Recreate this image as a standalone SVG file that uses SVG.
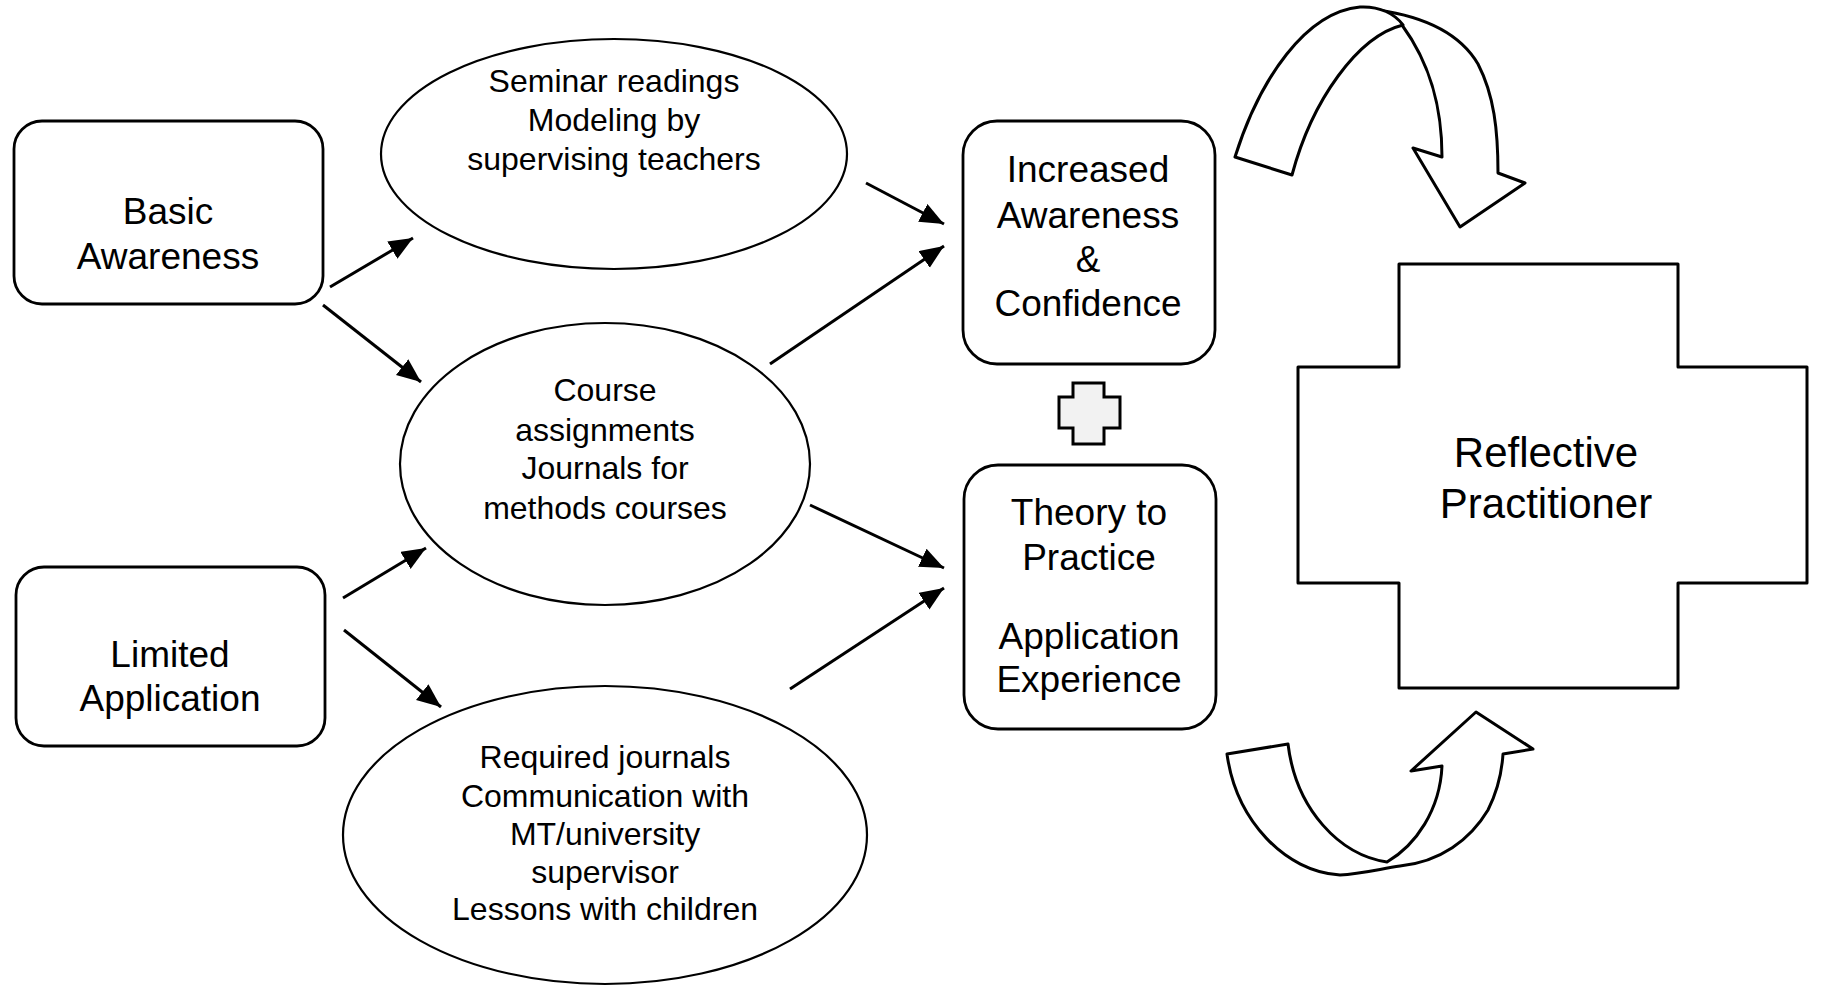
<svg xmlns="http://www.w3.org/2000/svg" width="1821" height="987" viewBox="0 0 1821 987">
  <style>
    .box { fill: #fff; stroke: #000; stroke-width: 2.8; }
    .oval { fill: #fff; stroke: #000; stroke-width: 2.2; }
    .shape { fill: #fff; stroke: #000; stroke-width: 3; stroke-linejoin: round; }
    .lbl { font-family: "Liberation Sans", Arial, sans-serif; font-size: 37px; fill: #000; text-anchor: middle; }
    .sm { font-size: 32px; }
    .big { font-size: 42px; }
    .edge { stroke: #000; stroke-width: 3; fill: none; marker-end: url(#head); }
  </style>
  <defs>
    <marker id="head" markerUnits="userSpaceOnUse" markerWidth="26" markerHeight="22" refX="24" refY="10" orient="auto">
      <path d="M0,0 L24,10 L0,20 Z" fill="#000"/>
    </marker>
  </defs>
  <rect width="1821" height="987" fill="#fff"/>

  <!-- connectors -->
  <g id="connectors">
    <line class="edge" x1="330" y1="287" x2="413" y2="238"/>
    <line class="edge" x1="323" y1="305" x2="421" y2="382"/>
    <line class="edge" x1="343" y1="598" x2="426" y2="548"/>
    <line class="edge" x1="344" y1="630" x2="441" y2="707"/>
    <line class="edge" x1="866" y1="183" x2="944" y2="224"/>
    <line class="edge" x1="770" y1="364" x2="944" y2="246"/>
    <line class="edge" x1="810" y1="505" x2="944" y2="568"/>
    <line class="edge" x1="790" y1="689" x2="944" y2="588"/>
  </g>

  <!-- starting points -->
  <g id="basic-awareness">
    <rect class="box" x="14" y="121" width="309" height="183" rx="28"/>
    <text class="lbl" x="168" y="224">Basic</text>
    <text class="lbl" x="168" y="269">Awareness</text>
  </g>
  <g id="limited-application">
    <rect class="box" x="16" y="567" width="309" height="179" rx="28"/>
    <text class="lbl" x="170" y="667">Limited</text>
    <text class="lbl" x="170" y="711">Application</text>
  </g>

  <!-- activities -->
  <g id="seminar">
    <ellipse class="oval" cx="614" cy="154" rx="233" ry="115"/>
    <text class="lbl sm" x="614" y="92">Seminar readings</text>
    <text class="lbl sm" x="614" y="131">Modeling by</text>
    <text class="lbl sm" x="614" y="170">supervising teachers</text>
  </g>
  <g id="coursework">
    <ellipse class="oval" cx="605" cy="464" rx="205" ry="141"/>
    <text class="lbl sm" x="605" y="401">Course</text>
    <text class="lbl sm" x="605" y="441">assignments</text>
    <text class="lbl sm" x="605" y="479">Journals for</text>
    <text class="lbl sm" x="605" y="519">methods courses</text>
  </g>
  <g id="field-work">
    <ellipse class="oval" cx="605" cy="835" rx="262" ry="149"/>
    <text class="lbl sm" x="605" y="768">Required journals</text>
    <text class="lbl sm" x="605" y="807">Communication with</text>
    <text class="lbl sm" x="605" y="845">MT/university</text>
    <text class="lbl sm" x="605" y="883">supervisor</text>
    <text class="lbl sm" x="605" y="920">Lessons with children</text>
  </g>

  <!-- outcomes -->
  <g id="awareness-confidence">
    <rect class="box" x="963" y="121" width="252" height="243" rx="34"/>
    <text class="lbl" x="1088" y="182">Increased</text>
    <text class="lbl" x="1088" y="228">Awareness</text>
    <text class="lbl" x="1088" y="272">&amp;</text>
    <text class="lbl" x="1088" y="316">Confidence</text>
  </g>
  <g id="plus">
    <path d="M1073,383 H1104 V397 H1120 V428 H1104 V444 H1073 V428 H1059 V397 H1073 Z" fill="#f2f2f2" stroke="#000" stroke-width="3"/>
  </g>
  <g id="theory-practice">
    <rect class="box" x="964" y="465" width="252" height="264" rx="34"/>
    <text class="lbl" x="1089" y="525">Theory to</text>
    <text class="lbl" x="1089" y="570">Practice</text>
    <text class="lbl" x="1089" y="649">Application</text>
    <text class="lbl" x="1089" y="692">Experience</text>
  </g>

  <!-- goal -->
  <g id="reflective-practitioner">
    <path class="shape" d="M1399,264 H1678 V367 H1807 V583 H1678 V688 H1399 V583 H1298 V367 H1399 Z" stroke-linejoin="miter"/>
    <text class="lbl big" x="1546" y="467">Reflective</text>
    <text class="lbl big" x="1546" y="518">Practitioner</text>
  </g>

  <!-- cycle arrows -->
  <g id="cycle-top">
    <path class="shape" d="M1378,10 C1420,16 1458,30 1478,64 C1494,95 1498,130 1498,173 L1525,183 L1460,227 L1413,148 L1442,157 C1442,110 1432,66 1402,25 Z"/>
    <path class="shape" d="M1235,157 C1260,78 1306,12 1360,7 C1380,6 1395,14 1403,25 C1358,36 1312,100 1292,175 Z"/>
  </g>
  <g id="cycle-bottom">
    <path class="shape" d="M1227,754 C1236,820 1285,872 1340,875 C1360,874 1380,869 1400,866 C1440,862 1470,840 1488,810 C1498,790 1502,770 1503,754 L1533,749 L1476,712 L1411,771 L1442,766 C1440,810 1416,845 1387,862 C1340,855 1296,810 1288,744 Z"/>
  </g>
</svg>
